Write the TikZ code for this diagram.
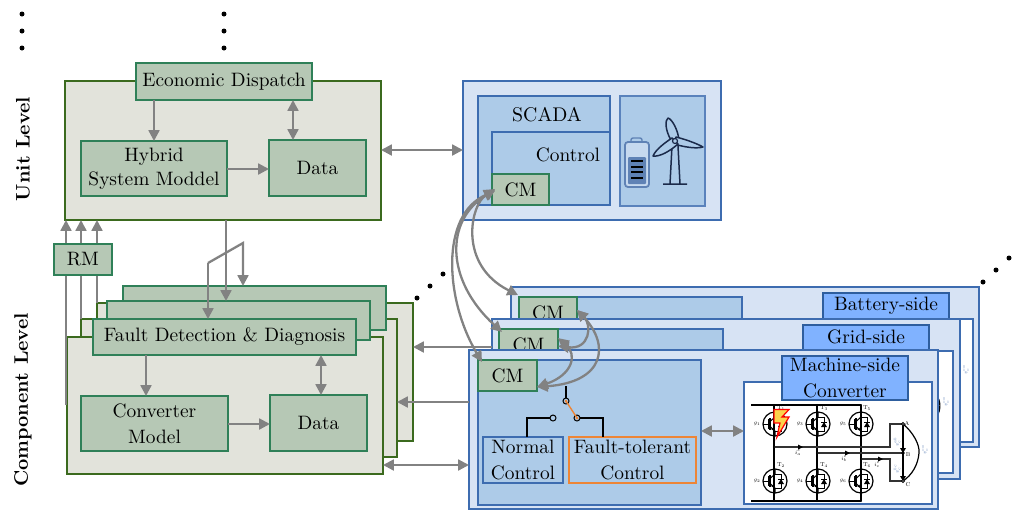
\documentclass[tikz,border=0pt]{standalone}
\usetikzlibrary{arrows.meta,calc}
\definecolor{unitfill}{HTML}{E2E3DB}
\definecolor{unitline}{HTML}{3B6A1E}
\definecolor{gfill}{HTML}{B6C8B5}
\definecolor{gline}{HTML}{2F8058}
\definecolor{panelfill}{HTML}{D7E3F4}
\definecolor{panelline}{HTML}{3D6CB0}
\definecolor{innerfill}{HTML}{ADCBE8}
\definecolor{titlefill}{HTML}{80B2FF}
\definecolor{titleline}{HTML}{2E5E9E}
\definecolor{arrowgrey}{HTML}{828282}
\definecolor{ftorange}{HTML}{ED8536}
\definecolor{vblue}{HTML}{5B7FB5}
\definecolor{battdark}{HTML}{5F82B5}
\definecolor{turbline}{HTML}{1B2A4A}
\tikzset{
  boxbase/.style={rectangle,inner sep=0pt,outer sep=0pt,align=center,line width=0.55pt,text=black,font=\fontsize{9.7}{12}\selectfont},
  unitbox/.style={boxbase,draw=unitline,fill=unitfill},
  greenbox/.style={boxbase,draw=gline,fill=gfill},
  panelbox/.style={boxbase,draw=panelline,fill=panelfill},
  innerbox/.style={boxbase,draw=panelline,fill=innerfill},
  softbox/.style={boxbase,draw=panelline!85!white,fill=innerfill},
  ftbox/.style={boxbase,draw=ftorange,fill=innerfill},
  titlebox/.style={boxbase,draw=titleline,fill=titlefill},
  whitebox/.style={boxbase,draw=panelline,fill=white},
  conn/.style={draw=arrowgrey,line width=1.15pt,-{Triangle[length=5.4pt,width=5.4pt]}},
  bothconn/.style={draw=arrowgrey,line width=1.15pt,{Triangle[length=5.4pt,width=5.4pt]}-{Triangle[length=5.4pt,width=5.4pt]}},
  wire/.style={draw=black,line width=0.6pt},
  contact/.style={circle,draw=black,fill=none,line width=0.5pt,minimum size=3pt,inner sep=0pt,outer sep=0pt},
  sdot/.style={circle,fill=black,minimum size=2.5pt,inner sep=0pt,outer sep=0pt},
  tinylab/.style={inner sep=0pt,font=\fontsize{7}{8}\selectfont,scale=0.4,transform shape},
  tinyblue/.style={tinylab,text=vblue},
  rowlabel/.style={rotate=90,inner sep=0pt,font=\fontsize{9.8}{12}\selectfont\bfseries},
}
% name, style, x1, y1, x2, y2, text
\newcommand{\bx}[7]{%
  \pgfmathsetmacro{\bxw}{(#5-#3)*0.5}\pgfmathsetmacro{\bxh}{(#6-#4)*0.5}%
  \node[#2,minimum width=\bxw pt,minimum height=\bxh pt] (#1) at ({(#3+#5)/2},{(#4+#6)/2}) {#7};}
% x, y, T index
\newcommand{\igbt}[3]{%
  \begin{scope}[shift={(#1,#2)}]
    \draw[line width=0.6pt] (0,0) circle (12);
    \draw[line width=0.5pt] (-12,0) -- (-7,0) (-7,-5) -- (-7,5);
    \draw[line width=0.7pt] (-5,-6) -- (-5,6);
    \draw[line width=0.5pt] (0,-12) -- (0,-7) -- (-5,-2.5) (-5,2.5) -- (0,7) -- (0,12);
    \fill (0,7) -- (-3.6,5.6) -- (-1.8,3.6) -- cycle;
    \draw[line width=0.5pt] (0,-7) -- (6,-7) -- (6,7) -- (0,7);
    \fill (6,-2) -- (3,3) -- (9,3) -- cycle;
    \draw[line width=0.5pt] (3,-2) -- (9,-2);
    \node[tinylab] at (-18,0) {$g_{#3}$};
    \node[tinylab] at (6,-16) {T$_{#3}$};
  \end{scope}}
\begin{document}
\begin{tikzpicture}[x=0.5pt,y=-0.5pt]
\useasboundingbox (0,0) rectangle (1014,510);
% dots
\foreach \n/\px/\py in {a/22/14,b/22/31,c/22/48,d/224/14,e/224/31,f/224/48,g/417/298,h/430/286,i/443/274,j/983/282,k/996/270,l/1009/258}
  \node[sdot] (dot\n) at (\px,\py) {};
% row labels
\node[rowlabel] (unitlevel) at (23,149) {Unit Level};
\node[rowlabel] (complevel) at (23,400) {Component Level};

% Component level stacked boxes
\bx{ub3}{unitbox}{97}{303}{413}{441}{}
\bx{ub2}{unitbox}{81}{319}{397}{457}{}
\bx{ub1}{unitbox}{67}{337}{383}{474}{}
\bx{fd3}{greenbox}{123}{286}{386}{330}{}
\bx{fd2}{greenbox}{107}{301}{370}{340}{}
\bx{fd1}{greenbox}{93}{319}{356}{355}{Fault Detection \& Diagnosis}
\bx{conv}{greenbox}{81}{396}{228}{451}{Converter\\[1pt]Model}
\bx{cdata}{greenbox}{270}{395}{367}{451}{Data}

% Unit level
\bx{unit}{unitbox}{65}{81}{381}{220}{}
\bx{ed}{greenbox}{136}{63}{312}{100}{Economic Dispatch}
\bx{hy}{greenbox}{81}{141}{227}{196}{Hybrid\\System Moddel}
\bx{udata}{greenbox}{269}{140}{366}{196}{Data}

% RM risers
\coordinate (xr1) at (66,0);\coordinate (xr2) at (81,0);\coordinate (xr3) at (97,0);
\coordinate (r1s) at (66,405);
\draw[conn] (r1s) -- (r1s |- unit.south);
\draw[conn] (ub2.north -| xr2) -- (unit.south -| xr2);
\draw[conn] (ub3.north -| xr3) -- (unit.south -| xr3);
\bx{rm}{greenbox}{54}{244}{112}{275}{RM}

% Unit arrows
\coordinate (xm) at (293,0);\coordinate (yh) at (0,169);
\coordinate (xe) at (154,0);
\draw[conn] (ed.south -| xe) -- (hy.north -| xe);
\draw[bothconn] (ed.south -| xm) -- (udata.north -| xm);
\draw[conn] (hy.east |- yh) -- (udata.west |- yh);

% Unit to FDD arrows
\coordinate (xc) at (226,0);
\coordinate (bl) at (208,263);\coordinate (br) at (243,243);
\draw[conn] (unit.south -| xc) -- (fd2.north -| xc);
\draw[conn] (bl) -- (br) -- (br |- fd3.north);
\draw[conn] (bl) -- (bl |- fd1.north);

% Component arrows
\coordinate (xf) at (146,0);\coordinate (xd) at (321,0);\coordinate (yc) at (0,424);
\draw[conn] (fd1.south -| xf) -- (conv.north -| xf);
\draw[bothconn] (fd1.south -| xd) -- (cdata.north -| xd);
\draw[conn] (conv.east |- yc) -- (cdata.west |- yc);

% SCADA
\bx{sp}{panelbox}{463}{81}{721}{220}{}
\bx{sc}{innerbox}{478}{96}{610}{205}{}
\node[inner sep=0pt,font=\fontsize{9.9}{12}\selectfont] (sctext) at (547,115) {SCADA};
\bx{ct}{innerbox}{492}{132}{610}{205}{}
\node[inner sep=0pt,font=\fontsize{9.7}{12}\selectfont] (cttext) at (568,155) {Control};
\bx{scm}{greenbox}{492}{174}{549}{205}{CM}
\bx{ic}{softbox}{620}{96}{705}{206}{}
% battery icon
\draw[draw=battdark,line width=0.7pt,fill=innerfill,rounded corners=1pt] (631,142) -- (631,138) -- (642,138) -- (642,142);
\draw[draw=battdark,line width=0.9pt,fill=panelfill!60!innerfill,rounded corners=1.5pt] (625,142) rectangle (649,187);
\fill[battdark,rounded corners=0.5pt] (628,157) rectangle (646,184);
\foreach \yy in {161,167,172,178} \draw[black,line width=0.6pt] (631,\yy) -- (643,\yy);
% turbine
\draw[turbline,line width=0.75pt,line join=round] (672,146) -- (670,184) (678,146) -- (680,184) (663,184) -- (687,184);
\draw[turbline,line width=0.75pt,fill=innerfill,line join=round] (671,140) .. controls (665,130) and (665,120) .. (668,118) .. controls (672,119) and (678,130) .. (679,140) -- cycle;
\draw[turbline,line width=0.75pt,fill=innerfill,line join=round] (676,137) .. controls (684,139) and (696,143) .. (703,147) .. controls (696,149) and (684,147) .. (674,144) -- cycle;
\draw[turbline,line width=0.75pt,fill=innerfill,line join=round] (672,138) .. controls (666,142) and (656,149) .. (653,156) .. controls (660,157) and (670,151) .. (678,144) -- cycle;
\fill[innerfill] (675,141) circle (2.5);
\draw[turbline,line width=0.6pt] (675,141) circle (2.5);

% Battery-side panel
\bx{bp}{panelbox}{511}{287}{979}{447}{}
\bx{bi}{innerbox}{519}{297}{742}{340}{}
\bx{bcm}{greenbox}{519}{297}{577}{328}{CM}
\bx{bw}{whitebox}{760}{319}{973}{442}{}
\draw[black,line width=0.6pt] (958,360) .. controls (961,370) and (961,385) .. (958,395);
\node[tinyblue,rotate=90] (bv) at (966,370) {$v_c^{ca}$};
\bx{bt}{titlebox}{823}{293}{949}{319}{\raisebox{0.7pt}{Battery-side}}

% Grid-side panel
\bx{gp}{panelbox}{492}{319}{960}{479}{}
\bx{gi}{innerbox}{499}{329}{723}{372}{}
\bx{gcm}{greenbox}{499}{329}{558}{360}{CM}
\bx{gw}{whitebox}{740}{351}{953}{473}{}
\draw[black,line width=0.6pt] (936,395) .. controls (941,400) and (941,410) .. (937,416);
\node[tinyblue,rotate=90] (gv) at (946,402) {$v_c^{ca}$};
\bx{gt}{titlebox}{803}{325}{929}{352}{\raisebox{1.5pt}{Grid-side}}

% Machine-side panel
\bx{mp}{panelbox}{469}{350}{938}{509}{}
\bx{mi}{innerbox}{478}{360}{701}{505}{}
\bx{mcm}{greenbox}{478}{360}{537}{391}{CM}
\bx{nc}{innerbox}{483}{437}{563}{483}{Normal\\[1pt]Control}
\bx{ft}{ftbox}{569}{437}{696}{483}{Fault-tolerant\\[1pt]Control}
\bx{mw}{whitebox}{744}{382}{932}{504}{}
\bx{mt}{titlebox}{782}{356}{908}{400}{Machine-side\\[1pt]Converter}

% switch
\node[contact] (pole) at (566,401) {};
\node[contact] (cl) at (553,418) {};
\node[contact] (cr) at (577,418) {};
\coordinate (pt) at (566,386);
\coordinate (xnc) at (527,0);\coordinate (xft) at (603,0);
\draw[wire] (pt) -- (pole);
\draw[wire] (cl) -| (nc.north -| xnc);
\draw[wire] (cr) -| (ft.north -| xft);
\draw[draw=ftorange,line width=0.7pt] (pole.center) -- (cr.center);
\fill[ftorange] (pole.center) circle (1.5);
\fill[ftorange] (cr.center) circle (1.5);

% circuit
\draw[black,line width=0.6pt] (751,405) -- (861,405) (751,501) -- (861,501);
\foreach \cx in {774,817,861} {\draw[black,line width=0.6pt] (\cx,405) -- (\cx,501);
  \fill (\cx,405) circle (1.2); \fill (\cx,501) circle (1.2);}
\igbt{775}{424}{1}\igbt{818}{424}{3}\igbt{861}{424}{5}
\igbt{775}{481}{2}\igbt{818}{481}{4}\igbt{861}{481}{6}
\coordinate (A) at (903,424);\coordinate (B) at (903,453);\coordinate (C) at (903,481);
\draw[black!80,line width=0.9pt] (774,447) -- (890,447) -- (890,424) -- (A);
\draw[black!80,line width=0.8pt] (817,453) -- (B);
\draw[black!80,line width=0.8pt] (861,459) -- (890,459) -- (890,481) -- (C);
\foreach \qx/\qy in {774/447,817/453,861/459} \fill (\qx,\qy) circle (1.2);
\foreach \qx/\qy in {800/447,847/453,880/459} \fill (\qx+3,\qy) -- (\qx-2,\qy-2.5) -- (\qx-2,\qy+2.5) -- cycle;
\draw[black,line width=0.6pt] (A) -- (C);
\fill (903,453) -- (900,448) -- (906,448) -- cycle;
\fill (903,481) -- (900,476) -- (906,476) -- cycle;
\draw[black,line width=0.6pt] (A) .. controls (913,432) and (920,445) .. (919,453) .. controls (918,465) and (912,475) .. (C);
\foreach \qq in {A,C} \filldraw[fill=white,draw=black,line width=0.4pt] (\qq) circle (1.5);
\filldraw[fill=black] (B) circle (1.3);
\node[tinylab] (la) at (907,423) {A};
\node[tinylab] (lb) at (908,455) {B};
\node[tinylab] (lc) at (908,485) {C};
\node[tinylab] (ia) at (798,453) {$i_a^c$};
\node[tinylab] (ib) at (844,459) {$i_b^c$};
\node[tinylab] (ic2) at (877,465) {$i_c^c$};
\node[tinyblue,rotate=90] (vab) at (897,442) {$v_c^{ab}$};
\node[tinyblue,rotate=90] (vbc) at (897,469) {$v_c^{bc}$};
\node[tinyblue,rotate=90] (vca) at (925,450) {$v_c^{ca}$};
% lightning
\draw[draw=red,line width=0.6pt,fill=yellow!55!orange!70!white,line join=miter]
  (774,409.5) -- (789,409.5) -- (782,417) -- (789,417) -- (777,437) -- (780,423) -- (774,423) -- cycle;

% Panel connectors
\coordinate (yu) at (0,150);\coordinate (yg) at (0,347);\coordinate (ym) at (0,402);\coordinate (yb) at (0,465);\coordinate (yw) at (0,431);
\draw[bothconn] (unit.east |- yu) -- (sp.west |- yu);
\draw[conn] (gp.west |- yg) -- (ub3.east |- yg);
\draw[conn] (mp.west |- ym) -- (ub2.east |- ym);
\draw[bothconn] (ub1.east |- yb) -- (mp.west |- yb);
\draw[bothconn] (mi.east |- yw) -- (mw.west |- yw);

% CM links
\coordinate (s1) at (495,189);\coordinate (s2) at (495,190);\coordinate (s3) at (495,191);
\coordinate (b1) at (518,295);\coordinate (g1) at (502,332);\coordinate (m1) at (482,362);
\draw[bothconn] (s1) .. controls (470,205) and (458,265) .. (b1);
\draw[bothconn] (s2) .. controls (445,220) and (445,280) .. (g1);
\draw[bothconn] (s3) .. controls (440,215) and (445,300) .. (m1);
\coordinate (ba) at (577,310);\coordinate (gb) at (558,338);\coordinate (gc) at (558,346);\coordinate (ma) at (537,387);
\draw[bothconn] (gb) .. controls (578,355) and (572,375) .. (ma);
\draw[bothconn] (ba) .. controls (610,345) and (605,382) .. (ma);
\draw[bothconn] (ba) .. controls (592,325) and (590,350) .. (gc);
\end{tikzpicture}
\end{document}
